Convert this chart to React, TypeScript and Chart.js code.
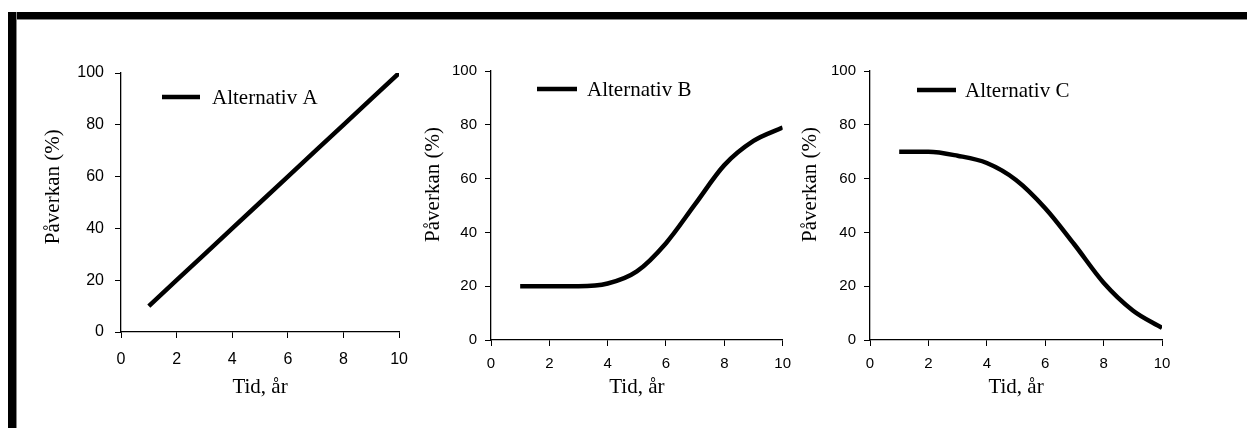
import React, { useEffect, useRef } from "react";
import { Chart, registerables } from "chart.js";

Chart.register(...registerables);

// ---- data ----
const years = [1, 2, 3, 4, 5, 6, 7, 8, 9, 10];
const seriesA = [10, 20, 30, 40, 50, 60, 70, 80, 90, 100];
const seriesB = [20, 20, 20, 21, 25.5, 36, 50.5, 65, 74, 79];
const seriesC = [70, 70, 68.5, 65.8, 59.5, 49, 35.5, 21.3, 11, 4.5];
const labelA = "Alternativ A";
const labelB = "Alternativ B";
const labelC = "Alternativ C";
const yTitle = "Påverkan (%)";
const xTitle = "Tid, år";
const xMin = 0, xMax = 10, xStep = 2;
const yMin = 0, yMax = 100, yStep = 20;

const SANS = "'Liberation Sans', Arial, sans-serif";
const SERIF = "'Liberation Serif', 'Times New Roman', serif";

const lineLegend = {
  id: "lineLegend",
  afterDatasetsDraw(chart: any, _args: any, opts: any) {
    const ds = chart.data.datasets[0];
    const { ctx, chartArea } = chart;
    const x = chartArea.left + opts.offsetX;
    const y = chartArea.top + opts.offsetY;
    ctx.save();
    ctx.strokeStyle = ds.borderColor;
    ctx.lineWidth = ds.borderWidth;
    ctx.beginPath();
    ctx.moveTo(x, y);
    ctx.lineTo(x + opts.length, y);
    ctx.stroke();
    ctx.font = `${opts.size}px ${SERIF}`;
    ctx.fillStyle = "#000";
    ctx.textBaseline = "middle";
    ctx.textAlign = "left";
    ctx.fillText(ds.label, x + opts.length + opts.gap, y + opts.textDy);
    ctx.restore();
  },
};

type Panel = {
  label: string;
  values: number[];
  curved: boolean;
  left: number;
  width: number;
  pad: { top: number; right: number };
  yWidth: number;
  xHeight: number;
  yTitlePad: number;
  yTitleShift: number;
  xTitlePad: number;
  tickSize: number;
  xTickPad: number;
  yTickPad: number;
  legend: { offsetX: number; offsetY: number; length: number; gap: number; textDy: number };
};

const panels: Panel[] = [
  {
    label: labelA, values: seriesA, curved: false,
    left: 20, width: 400, pad: { top: 53, right: 20 }, yWidth: 101, xHeight: 88,
    yTitlePad: 20.4, yTitleShift: 6, xTitlePad: 20.4, tickSize: 16, xTickPad: 12, yTickPad: 11,
    legend: { offsetX: 41, offsetY: 24, length: 38, gap: 12, textDy: 1.5 },
  },
  {
    label: labelB, values: seriesB, curved: true,
    left: 420, width: 380, pad: { top: 51, right: 17 }, yWidth: 71, xHeight: 80,
    yTitlePad: 0.4, yTitleShift: 8, xTitlePad: 20.4, tickSize: 15, xTickPad: 9, yTickPad: 8,
    legend: { offsetX: 46, offsetY: 18, length: 40, gap: 10, textDy: 1.5 },
  },
  {
    label: labelC, values: seriesC, curved: true,
    left: 796, width: 400, pad: { top: 51, right: 34 }, yWidth: 74, xHeight: 80,
    yTitlePad: 1.4, yTitleShift: 8, xTitlePad: 20.4, tickSize: 15, xTickPad: 9, yTickPad: 8,
    legend: { offsetX: 47, offsetY: 19, length: 39, gap: 9, textDy: 1.5 },
  },
];

const CANVAS_TOP = 20;
const CANVAS_H = 400;

function PanelChart({ p }: { p: Panel }) {
  const ref = useRef<HTMLCanvasElement | null>(null);
  useEffect(() => {
    if (!ref.current) return;
    const chart = new Chart(ref.current, {
      type: "line",
      data: {
        datasets: [
          {
            label: p.label,
            data: years.map((x, i) => ({ x, y: p.values[i] })),
            borderColor: "#000",
            backgroundColor: "#000",
            borderWidth: 4.5,
            pointRadius: 0,
            tension: 0,
            cubicInterpolationMode: p.curved ? "monotone" : "default",
            fill: false,
          } as any,
        ],
      },
      plugins: [lineLegend as any],
      options: {
        responsive: false,
        animation: false,
        devicePixelRatio: 1,
        layout: { padding: { top: p.pad.top, right: p.pad.right, left: 0, bottom: 0 } },
        plugins: {
          legend: { display: false },
          tooltip: { enabled: false },
          lineLegend: { ...p.legend, size: 21 },
        } as any,
        scales: {
          x: {
            type: "linear",
            min: xMin,
            max: xMax,
            afterFit: (s: any) => { s.height = p.xHeight; },
            ticks: { stepSize: xStep, color: "#000", padding: p.xTickPad, font: { family: SANS, size: p.tickSize } },
            grid: { drawOnChartArea: false, drawTicks: true, tickLength: 6, color: "#000", lineWidth: 1 },
            border: { display: true, color: "#000", width: 1.3 },
            title: {
              display: true,
              text: xTitle,
              color: "#000",
              font: { family: SERIF, size: 21, lineHeight: 1.2 },
              padding: { top: 0, bottom: p.xTitlePad },
            },
          },
          y: {
            type: "linear",
            min: yMin,
            max: yMax,
            afterFit: (s: any) => { s.width = p.yWidth; },
            ticks: { stepSize: yStep, color: "#000", padding: p.yTickPad, font: { family: SANS, size: p.tickSize } },
            grid: { drawOnChartArea: false, drawTicks: true, tickLength: 6, color: "#000", lineWidth: 1 },
            border: { display: true, color: "#000", width: 1.3 },
            title: {
              display: true,
              text: " ".repeat(p.yTitleShift) + yTitle,
              color: "#000",
              font: { family: SERIF, size: 21, lineHeight: 1.2 },
              padding: { top: p.yTitlePad, bottom: 0 },
            },
          },
        } as any,
      },
    });
    return () => chart.destroy();
  }, [p]);
  return (
    <canvas
      ref={ref}
      width={p.width}
      height={CANVAS_H}
      style={{ position: "absolute", left: p.left, top: CANVAS_TOP, width: p.width, height: CANVAS_H }}
    />
  );
}

export default function App() {
  return (
    <div style={{ position: "absolute", left: 0, top: 0, width: 1247, height: 428, background: "#fff", overflow: "hidden" }}>
      <div style={{ position: "absolute", left: 8, top: 12, width: 1239, height: 7, background: "#000", boxShadow: "0 1px 0 #888" }} />
      <div style={{ position: "absolute", left: 8, top: 12, width: 8, height: 416, background: "#000", boxShadow: "1px 0 0 #888" }} />
      {panels.map((p) => (
        <PanelChart key={p.label} p={p} />
      ))}
    </div>
  );
}
